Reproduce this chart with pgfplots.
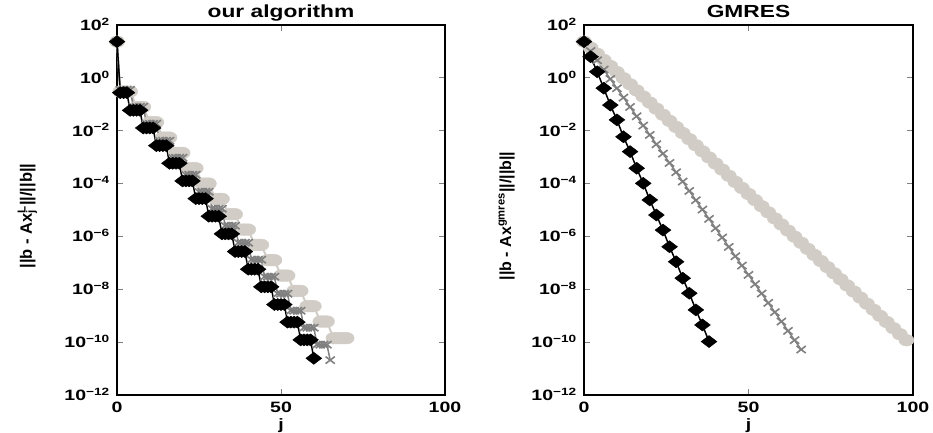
\documentclass[border=0pt]{standalone}
\usepackage{fontspec}
\setmainfont{Liberation Sans}[FakeStretch=1.3]
\newfontfamily\ylfont{Liberation Sans}
\usepackage{pgfplots}
\pgfplotsset{compat=1.18}

\definecolor{lgray}{RGB}{209,205,198}
\definecolor{mgray}{RGB}{128,128,128}

\tikzset{
  blk/.style={black, line width=1.5pt, mark=diamond*, mark size=6pt,
    mark options={fill=black, draw=black, xscale=1.75, line width=0.5pt}},
  gry/.style={mgray, line width=1.5pt, mark=x, mark size=5pt,
    mark options={draw=mgray, xscale=1.3, line width=1.6pt}},
  lgr/.style={lgray, line width=2pt, mark=*, mark size=5.8pt,
    mark options={fill=lgray, draw=lgray, xscale=1.3, line width=0.5pt}},
}
\newcommand\tf{\fontsize{15}{15}\selectfont\bfseries}

\begin{document}
\begin{tikzpicture}
\useasboundingbox (0,0) rectangle (933pt,433pt);

% left panel
\begin{axis}[at={(117pt,38pt)}, anchor=south west,
  scale only axis, width=328pt, height=370pt,
  ymode=log, xmin=0, xmax=100, ymin=1e-12, ymax=1e2,
  xtick={0,50,100}, xticklabels={0,50,100},
  ytick={1e2,1,1e-2,1e-4,1e-6,1e-8,1e-10,1e-12},
  yticklabels={10\textsuperscript{2},10\textsuperscript{0},10\textsuperscript{−2},10\textsuperscript{−4},
    10\textsuperscript{−6},10\textsuperscript{−8},10\textsuperscript{−10},10\textsuperscript{−12}},
  yminorticks=false,
  tick align=inside, major tick length=6pt,
  tick style={gray, line width=1pt},
  axis line style={line width=1.2pt},
  clip=false,
  xticklabel style={font=\tf, anchor=base, yshift=-17pt, inner sep=0pt},
  yticklabel style={font=\tf, anchor=base east, yshift=-5.4pt, xshift=-7pt, inner sep=0pt},
  every axis title shift=0pt,
  title style={at={(axis description cs:0.5,1)}, anchor=base, yshift=7pt,
    font=\fontsize{17.5}{18}\selectfont\bfseries},
  xlabel style={at={(axis description cs:0.5,0)}, anchor=base, yshift=-34pt, font=\tf},
  ylabel style={at={(axis description cs:0,0.5)}, anchor=base, yshift=85pt, xshift=-6pt,
    font=\ylfont\fontsize{16.5}{16.5}\selectfont\bfseries},
  xlabel={j},
  title={our algorithm},
  ylabel={||b - Ax\rlap{\textsubscript{j}}\textsuperscript{L}||/||b||}]
\addplot[lgr] coordinates {
  (0,23.4) (1,3.02e-1)
  (2,3.02e-1) (3,3.02e-1) (4,3.02e-1)
  (6,7.94e-2) (7,7.94e-2) (8,7.94e-2)
  (10,2.09e-2) (11,2.09e-2) (12,2.09e-2)
  (14,5.50e-3) (15,5.50e-3) (16,5.50e-3)
  (18,1.45e-3) (19,1.45e-3) (20,1.45e-3)
  (22,3.80e-4) (23,3.80e-4) (24,3.80e-4)
  (26,1.00e-4) (27,1.00e-4) (28,1.00e-4)
  (30,2.63e-5) (31,2.63e-5) (32,2.63e-5)
  (34,6.92e-6) (35,6.92e-6) (36,6.92e-6)
  (38,1.82e-6) (39,1.82e-6) (40,1.82e-6)
  (42,4.79e-7) (43,4.79e-7) (44,4.79e-7)
  (46,1.26e-7) (47,1.26e-7) (48,1.26e-7)
  (50,3.31e-8) (51,3.31e-8) (52,3.31e-8)
  (54,8.71e-9) (55,8.71e-9) (56,8.71e-9)
  (58,2.29e-9) (59,2.29e-9) (60,2.29e-9)
  (62,6.03e-10) (63,6.03e-10) (64,6.03e-10)
  (66,1.41e-10) (67,1.41e-10) (68,1.41e-10) (69,1.41e-10) (70,1.41e-10)
};
\addplot[gry] coordinates {
  (0,23.4)
  (1,3.55e-1) (2,3.55e-1) (3,3.55e-1) (4,3.55e-1)
  (5,8.07e-2) (6,8.07e-2) (7,8.07e-2) (8,8.07e-2)
  (9,1.84e-2) (10,1.84e-2) (11,1.84e-2) (12,1.84e-2)
  (13,4.18e-3) (14,4.18e-3) (15,4.18e-3) (16,4.18e-3)
  (17,9.51e-4) (18,9.51e-4) (19,9.51e-4) (20,9.51e-4)
  (21,2.16e-4) (22,2.16e-4) (23,2.16e-4) (24,2.16e-4)
  (25,4.92e-5) (26,4.92e-5) (27,4.92e-5) (28,4.92e-5)
  (29,1.12e-5) (30,1.12e-5) (31,1.12e-5) (32,1.12e-5)
  (33,2.55e-6) (34,2.55e-6) (35,2.55e-6) (36,2.55e-6)
  (37,5.79e-7) (38,5.79e-7) (39,5.79e-7) (40,5.79e-7)
  (41,1.32e-7) (42,1.32e-7) (43,1.32e-7) (44,1.32e-7)
  (45,3.00e-8) (46,3.00e-8) (47,3.00e-8) (48,3.00e-8)
  (49,6.82e-9) (50,6.82e-9) (51,6.82e-9) (52,6.82e-9)
  (53,1.55e-9) (54,1.55e-9) (55,1.55e-9) (56,1.55e-9)
  (57,3.53e-10) (58,3.53e-10) (59,3.53e-10) (60,3.53e-10)
  (61,8.04e-11) (62,8.04e-11) (63,8.04e-11) (64,8.04e-11)
  (65,2.09e-11)
};
\addplot[blk] coordinates {
  (0,23.4)
  (1,2.75e-1) (2,2.75e-1) (3,2.75e-1)
  (4,5.92e-2) (5,5.92e-2) (6,5.92e-2) (7,5.92e-2)
  (8,1.27e-2) (9,1.27e-2) (10,1.27e-2) (11,1.27e-2)
  (12,2.73e-3) (13,2.73e-3) (14,2.73e-3) (15,2.73e-3)
  (16,5.86e-4) (17,5.86e-4) (18,5.86e-4) (19,5.86e-4)
  (20,1.26e-4) (21,1.26e-4) (22,1.26e-4) (23,1.26e-4)
  (24,2.70e-5) (25,2.70e-5) (26,2.70e-5) (27,2.70e-5)
  (28,5.81e-6) (29,5.81e-6) (30,5.81e-6) (31,5.81e-6)
  (32,1.25e-6) (33,1.25e-6) (34,1.25e-6) (35,1.25e-6)
  (36,2.68e-7) (37,2.68e-7) (38,2.68e-7) (39,2.68e-7)
  (40,5.75e-8) (41,5.75e-8) (42,5.75e-8) (43,5.75e-8)
  (44,1.24e-8) (45,1.24e-8) (46,1.24e-8) (47,1.24e-8)
  (48,2.65e-9) (49,2.65e-9) (50,2.65e-9) (51,2.65e-9)
  (52,5.70e-10) (53,5.70e-10) (54,5.70e-10) (55,5.70e-10)
  (56,1.22e-10) (57,1.22e-10) (58,1.22e-10) (59,1.22e-10)
  (60,2.45e-11)
};
\end{axis}

% right panel
\begin{axis}[at={(584pt,38pt)}, anchor=south west,
  scale only axis, width=329pt, height=370pt,
  ymode=log, xmin=0, xmax=100, ymin=1e-12, ymax=1e2,
  xtick={0,50,100}, xticklabels={0,50,100},
  ytick={1e2,1,1e-2,1e-4,1e-6,1e-8,1e-10,1e-12},
  yticklabels={10\textsuperscript{2},10\textsuperscript{0},10\textsuperscript{−2},10\textsuperscript{−4},
    10\textsuperscript{−6},10\textsuperscript{−8},10\textsuperscript{−10},10\textsuperscript{−12}},
  yminorticks=false,
  tick align=inside, major tick length=6pt,
  tick style={gray, line width=1pt},
  axis line style={line width=1.2pt},
  clip=false,
  xticklabel style={font=\tf, anchor=base, yshift=-17pt, inner sep=0pt},
  yticklabel style={font=\tf, anchor=base east, yshift=-5.4pt, xshift=-7pt, inner sep=0pt},
  every axis title shift=0pt,
  title style={at={(axis description cs:0.5,1)}, anchor=base, yshift=7pt,
    font=\fontsize{17.5}{18}\selectfont\bfseries},
  xlabel style={at={(axis description cs:0.5,0)}, anchor=base, yshift=-34pt, font=\tf},
  ylabel style={at={(axis description cs:0,0.5)}, anchor=base, yshift=73pt, xshift=-6pt,
    font=\ylfont\fontsize{16}{16}\selectfont\bfseries},
  xlabel={j},
  title={GMRES},
  ylabel={||b - Ax\textsuperscript{gmres}||/||b||}]
\addplot[lgr] coordinates {
  (0,23.4) (2,13.8) (4,8.09) (6,4.76) (8,2.81) (10,1.65) (12,0.968) (14,0.570)
  (16,0.335) (18,0.197) (20,0.116) (22,6.81e-2) (24,4.01e-2) (26,2.36e-2)
  (28,1.39e-2) (30,8.15e-3) (32,4.79e-3) (34,2.82e-3) (36,1.66e-3) (38,9.75e-4)
  (40,5.73e-4) (42,3.37e-4) (44,1.98e-4) (46,1.16e-4) (48,6.85e-5) (50,4.03e-5)
  (52,2.37e-5) (54,1.39e-5) (56,8.18e-6) (58,4.82e-6) (60,2.83e-6) (62,1.66e-6)
  (64,9.79e-7) (66,5.75e-7) (68,3.39e-7) (70,1.99e-7) (72,1.17e-7) (74,6.89e-8)
  (76,4.05e-8) (78,2.38e-8) (80,1.40e-8) (82,8.22e-9) (84,4.84e-9) (86,2.84e-9)
  (88,1.67e-9) (90,9.84e-10) (92,5.78e-10) (94,3.40e-10) (96,2.00e-10) (98,1.18e-10)
};
\addplot[gry] coordinates {
  (0,23.4) (2,10.4) (4,4.61) (6,2.05) (8,0.908) (10,0.403) (12,0.179) (14,7.93e-2)
  (16,3.52e-2) (18,1.56e-2) (20,6.92e-3) (22,3.07e-3) (24,1.36e-3) (26,6.04e-4)
  (28,2.68e-4) (30,1.19e-4) (32,5.27e-5) (34,2.34e-5) (36,1.04e-5) (38,4.60e-6)
  (40,2.04e-6) (42,9.06e-7) (44,4.02e-7) (46,1.78e-7) (48,7.91e-8) (50,3.51e-8)
  (52,1.56e-8) (54,6.90e-9) (56,3.06e-9) (58,1.36e-9) (60,6.03e-10) (62,2.67e-10)
  (64,1.19e-10) (66,5.26e-11)
};
\addplot[blk] coordinates {
  (0,23.4) (2,6.31) (4,1.70) (6,4.07e-1) (8,9.33e-2) (10,2.57e-2) (12,5.89e-3)
  (14,1.62e-3) (16,3.80e-4) (18,1.02e-4) (20,2.40e-5) (22,6.46e-6) (24,1.74e-6)
  (26,4.07e-7) (28,1.10e-7) (30,2.63e-8) (32,7.08e-9) (34,1.66e-9) (36,4.47e-10)
  (38,1.05e-10)
};
\end{axis}
\end{tikzpicture}
\end{document}
